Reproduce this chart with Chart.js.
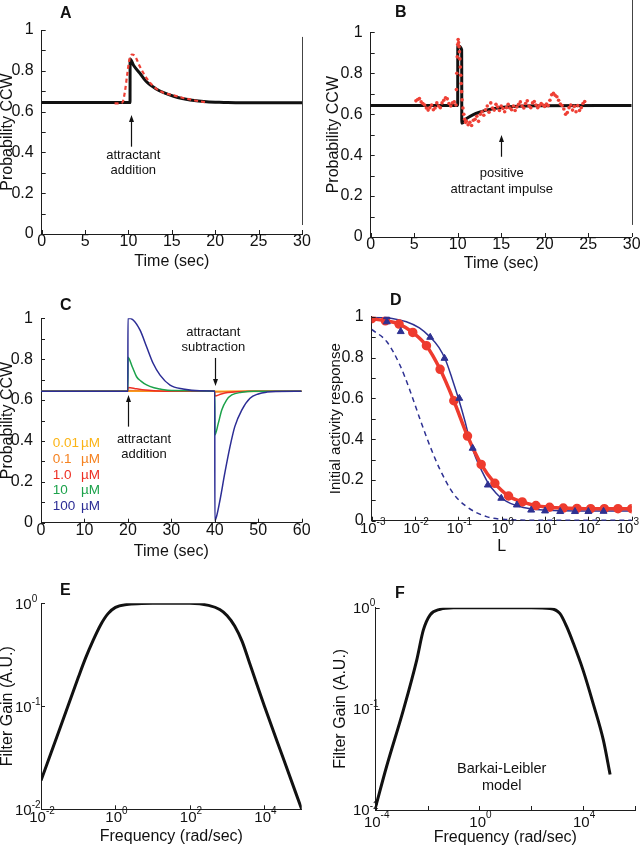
<!DOCTYPE html>
<html>
<head>
<meta charset="utf-8">
<script src="https://cdn.jsdelivr.net/npm/chart.js@4"></script>
<style>
  body { margin: 0; background: #fff; width: 640px; height: 852px; position: relative; overflow: hidden; }
  canvas { position: absolute; }
</style>
</head>
<body>
<canvas id="pA"></canvas>
<canvas id="pB"></canvas>
<canvas id="pC"></canvas>
<canvas id="pD"></canvas>
<canvas id="pE"></canvas>
<canvas id="pF"></canvas>
<script>
// ---- panel A : single attractant addition ----
const aTimeModel = [0, 10.18, 10.19, 10.6, 11.3, 12, 13.2, 14.2, 15.2, 16.2, 17.1, 19, 21, 23, 30];
const aModel = [0.644, 0.644, 0.858, 0.826, 0.789, 0.750, 0.711, 0.690, 0.675, 0.664, 0.657, 0.648, 0.645, 0.643, 0.643];
const aTimeExp = [8.4, 9.3, 9.6, 9.85, 10.1, 10.4, 10.75, 11.3, 12.1, 13.2, 14.2, 15.2, 16.2, 17.1, 18.0, 18.9];
const aExp = [0.640, 0.645, 0.700, 0.780, 0.853, 0.880, 0.872, 0.822, 0.763, 0.712, 0.690, 0.680, 0.668, 0.660, 0.652, 0.646];

// ---- panel B : positive impulse ----
const bTimeModel = [0, 10.0, 10.01, 10.46, 10.47, 11.0, 11.8, 12.6, 13.3, 14.4, 15.6, 17.0, 19.0, 30];
const bModel = [0.643, 0.643, 0.934, 0.915, 0.556, 0.578, 0.598, 0.611, 0.620, 0.629, 0.635, 0.639, 0.641, 0.642];
const bTimeExp = [
  5.2, 5.4, 5.6, 5.8, 6.0, 6.2, 6.4, 6.6, 6.8, 7.0, 7.2, 7.4, 7.6, 7.8, 8.0, 8.2, 8.4, 8.6, 8.8, 9.0, 9.2, 9.4, 9.6, 9.8,
  9.85, 9.9, 9.95, 10.0, 10.05, 10.1, 10.15, 10.2, 10.25, 10.3, 10.35, 10.4, 10.45, 10.5, 10.6, 10.7, 10.8, 10.9,
  11.0, 11.2, 11.4, 11.6, 11.8, 12.0, 12.2, 12.4, 12.6, 12.8, 13.0, 13.2, 13.4, 13.6, 13.8, 14.0, 14.2, 14.4, 14.6, 14.8,
  15.0, 15.2, 15.4, 15.6, 15.8, 16.0, 16.2, 16.4, 16.6, 16.8, 17.0, 17.2, 17.4, 17.6, 17.8, 18.0, 18.2, 18.4, 18.6, 18.8,
  19.0, 19.2, 19.4, 19.6, 19.8, 20.0, 20.2, 20.4, 20.6, 20.8, 21.0, 21.2, 21.4, 21.6, 21.8, 22.0, 22.2, 22.4, 22.6, 22.8,
  23.0, 23.2, 23.4, 23.6, 23.8, 24.0, 24.2, 24.4, 24.6
];
const bExp = [
  0.665, 0.672, 0.676, 0.660, 0.652, 0.645, 0.630, 0.620, 0.632, 0.645, 0.622, 0.630, 0.655, 0.640, 0.632, 0.655, 0.668, 0.680, 0.675, 0.652, 0.640, 0.655, 0.660, 0.645,
  0.72, 0.80, 0.88, 0.94, 0.965, 0.95, 0.93, 0.905, 0.87, 0.83, 0.79, 0.75, 0.71, 0.67, 0.63, 0.60, 0.575, 0.56,
  0.565, 0.548, 0.560, 0.545, 0.570, 0.575, 0.590, 0.565, 0.600, 0.612, 0.595, 0.622, 0.640, 0.610, 0.655, 0.630, 0.620, 0.648, 0.635, 0.618,
  0.640, 0.628, 0.612, 0.632, 0.648, 0.630, 0.622, 0.640, 0.618, 0.635, 0.648, 0.660, 0.640, 0.630, 0.652, 0.665, 0.640, 0.632, 0.655, 0.662,
  0.645, 0.632, 0.642, 0.652, 0.645, 0.638, 0.650, 0.642, 0.668, 0.695, 0.702, 0.692, 0.685, 0.668, 0.650, 0.642, 0.625, 0.600, 0.608, 0.632,
  0.645, 0.620, 0.638, 0.612, 0.642, 0.618, 0.632, 0.652, 0.662
];

// ---- panel C : addition then subtraction, five concentrations ----
const cTimeBlue = [0, 20, 20.01, 21.2, 22.8, 24.3, 25.8, 27.4, 29.7, 32.7, 36.5, 40, 40.01, 40.4, 41.2, 42.3, 43.5, 44.6, 46.2, 48.1, 50, 52, 54, 60];
const cBlue = [0.643, 0.643, 1.0, 0.992, 0.942, 0.861, 0.780, 0.722, 0.673, 0.654, 0.645, 0.643, 0.010, 0.030, 0.111, 0.242, 0.372, 0.470, 0.551, 0.609, 0.630, 0.639, 0.642, 0.643];
const cTimeGreen = [0, 20, 20.01, 21, 22, 23, 24.3, 26, 27.4, 30, 40, 40.01, 40.8, 41.6, 42.7, 43.9, 46.2, 49, 60];
const cGreen = [0.643, 0.643, 0.809, 0.763, 0.714, 0.693, 0.674, 0.660, 0.654, 0.647, 0.643, 0.429, 0.486, 0.551, 0.600, 0.625, 0.638, 0.643, 0.643];
const cTimeRed = [0, 20, 20.01, 22, 24, 26, 30, 40, 40.01, 41.5, 43, 45, 48, 60];
const cRed = [0.643, 0.643, 0.662, 0.655, 0.649, 0.646, 0.643, 0.643, 0.620, 0.630, 0.637, 0.641, 0.643, 0.643];
const cTimeOrange = [0, 20, 20.01, 24, 30, 40, 40.01, 44, 60];
const cOrange = [0.643, 0.643, 0.647, 0.644, 0.643, 0.643, 0.639, 0.642, 0.643];
const cTimeYellow = [0, 60];
const cYellow = [0.643, 0.643];
const cConc = ['0.01', '0.1', '1.0', '10', '100'];

// ---- panel D : dose response ----
const dLRed = [0.001, 0.00207, 0.00428, 0.00886, 0.01833, 0.0379, 0.0785, 0.1624, 0.336, 0.695, 1.438, 2.976, 6.158, 12.74, 26.37, 54.6, 112.9, 233.6, 483.3, 1000];
const dRed = [0.990, 0.980, 0.964, 0.923, 0.858, 0.742, 0.588, 0.415, 0.276, 0.183, 0.121, 0.092, 0.074, 0.066, 0.062, 0.060, 0.059, 0.059, 0.059, 0.059];
const dLTri = [0.00224, 0.00224, 0.00468, 0.0224, 0.0479, 0.105, 0.214, 0.479, 0.977, 2.24, 4.79, 10, 22.4, 49, 100, 224];
const dTri = [1.0, 0.975, 0.927, 0.899, 0.796, 0.600, 0.355, 0.175, 0.110, 0.077, 0.052, 0.048, 0.045, 0.045, 0.045, 0.046];
const dLFit = [0.001, 0.00316, 0.00631, 0.0126, 0.0224, 0.0355, 0.0501, 0.0708, 0.1, 0.141, 0.186, 0.251, 0.355, 0.501, 0.708, 1, 1.585, 3.16, 6.31, 15.8, 100, 1000];
const dFit = [0.998, 0.990, 0.975, 0.945, 0.900, 0.850, 0.790, 0.700, 0.600, 0.490, 0.390, 0.310, 0.240, 0.180, 0.140, 0.110, 0.085, 0.065, 0.055, 0.050, 0.048, 0.048];
const dLDash = [0.001, 0.00224, 0.00447, 0.00759, 0.0132, 0.0224, 0.038, 0.0759, 0.155, 0.447, 1.26, 10, 100, 1000];
const dDash = [0.938, 0.877, 0.763, 0.640, 0.494, 0.363, 0.249, 0.134, 0.069, 0.020, 0.006, 0.002, 0.002, 0.002];

// ---- panels E, F : filter gain ----
const eFreq = [0.01, 0.0316, 0.1, 0.158, 0.251, 0.398, 0.631, 1, 2, 5, 10, 100, 316, 631, 1000, 1585, 2512, 3981, 6310, 10000, 31623, 100000];
const eGain = [0.019, 0.060, 0.19, 0.295, 0.437, 0.617, 0.794, 0.912, 0.973, 0.993, 1.0, 1.0, 0.955, 0.871, 0.759, 0.603, 0.427, 0.263, 0.162, 0.1, 0.0316, 0.01];
const fFreq = [1e-4, 2.63e-4, 1.17e-3, 3.8e-3, 6.9e-3, 0.0126, 0.0302, 0.1, 1, 100, 525, 1259, 2344, 4169, 10000, 24547, 60256, 109648];
const fGain = [0.0108, 0.0269, 0.0977, 0.302, 0.603, 0.851, 0.964, 1.0, 1.0, 1.0, 0.984, 0.879, 0.646, 0.447, 0.24, 0.112, 0.049, 0.0224];

// tick exponents for the log axes
const dXExp = [-3, -2, -1, 0, 1, 2, 3];
const eXExp = [-2, 0, 2, 4];
const fXTickExp = [-4, -2, 0, 2, 4, 6];
const fXExp = [-4, 0, 4];
const gainYExp = [-2, -1, 0];

const FONT = '"Liberation Sans", Arial, Helvetica, sans-serif';
const AXIS = '#1e1e1e';
const TICK = 4;

const pts = (xs, ys) => xs.map((x, i) => ({ x: x, y: ys[i] }));

function labelY(v) {
  const k = Math.round(v * 10);
  if (k % 2) return '';
  return k === 0 ? '0' : (k === 10 ? '1' : (k / 10).toFixed(1));
}

// draws inward ticks, 10^n labels, annotation text and arrows
const deco = {
  id: 'deco',
  afterDraw(chart, args, o) {
    const { ctx, chartArea: a, scales: { x, y } } = chart;
    ctx.save();
    ctx.strokeStyle = AXIS;
    ctx.lineWidth = 1;
    ctx.beginPath();
    x.ticks.forEach(t => {
      const p = Math.round(x.getPixelForValue(t.value)) + 0.5;
      ctx.moveTo(p, a.bottom); ctx.lineTo(p, a.bottom - TICK);
    });
    y.ticks.forEach(t => {
      const p = Math.round(y.getPixelForValue(t.value)) + 0.5;
      ctx.moveTo(a.left, p); ctx.lineTo(a.left + TICK, p);
    });
    ctx.stroke();

    ctx.fillStyle = '#111';
    ctx.textAlign = 'left';
    ctx.textBaseline = 'alphabetic';
    if (o.logX) {
      o.logX.exps.forEach(e => {
        const px = x.getPixelForValue(Math.pow(10, e));
        ctx.font = '15px ' + FONT;
        const w1 = ctx.measureText('10').width;
        ctx.font = '10px ' + FONT;
        const w2 = ctx.measureText(String(e)).width;
        let sx = px - (w1 + w2) / 2 + 1;
        if (sx + w1 + w2 > chart.width - 1) sx = chart.width - 1 - w1 - w2;
        ctx.font = '15px ' + FONT;
        ctx.fillText('10', sx, a.bottom + o.logX.dy1);
        ctx.font = '10px ' + FONT;
        ctx.fillText(String(e), sx + w1, a.bottom + o.logX.dy2);
      });
    }
    if (o.logY) {
      o.logY.exps.forEach(e => {
        const py = y.getPixelForValue(Math.pow(10, e));
        ctx.font = '15px ' + FONT;
        const w1 = ctx.measureText('10').width;
        const sx = a.left - o.logY.gap - w1;
        ctx.fillText('10', sx, py + 5.3);
        ctx.font = '10px ' + FONT;
        ctx.fillText(String(e), sx + w1, py - 1.5);
      });
    }

    (o.texts || []).forEach(t => {
      ctx.font = (t.size || 13) + 'px ' + FONT;
      ctx.fillStyle = t.color || '#111';
      ctx.textAlign = t.align || 'center';
      ctx.textBaseline = 'middle';
      ctx.fillText(t.s, x.getPixelForValue(t.x), y.getPixelForValue(t.y));
    });

    ctx.fillStyle = '#111';
    ctx.strokeStyle = '#111';
    ctx.lineWidth = 1.2;
    (o.arrows || []).forEach(r => {
      const px = Math.round(x.getPixelForValue(r.x)) + 0.5;
      const p0 = y.getPixelForValue(r.y0), p1 = y.getPixelForValue(r.y1);
      const dir = p1 < p0 ? 1 : -1;
      ctx.beginPath();
      ctx.moveTo(px, p0); ctx.lineTo(px, p1 + dir * 5);
      ctx.stroke();
      ctx.beginPath();
      ctx.moveTo(px, p1); ctx.lineTo(px - 2.5, p1 + dir * 7); ctx.lineTo(px + 2.5, p1 + dir * 7);
      ctx.closePath(); ctx.fill();
    });

    if (o.vline) {
      const px = Math.round(x.getPixelForValue(o.vline[0])) + 0.5;
      ctx.strokeStyle = '#444';
      ctx.lineWidth = 1;
      ctx.beginPath();
      ctx.moveTo(px, y.getPixelForValue(o.vline[1]));
      ctx.lineTo(px, y.getPixelForValue(o.vline[2]));
      ctx.stroke();
    }

    if (o.letter) {
      ctx.font = 'bold 16px ' + FONT;
      ctx.fillStyle = '#111';
      ctx.textAlign = 'left';
      ctx.textBaseline = 'alphabetic';
      ctx.fillText(o.letter[0], o.letter[1], o.letter[2]);
    }
    ctx.restore();
  }
};

// frame = canvas box on the page, area = plot box on the page
function panel(id, frame, area, datasets, xs, ys, o) {
  const cv = document.getElementById(id);
  cv.style.left = frame[0] + 'px';
  cv.style.top = frame[1] + 'px';
  cv.width = frame[2] - frame[0];
  cv.height = frame[3] - frame[1];
  const padL = area[0] - frame[0], padT = area[1] - frame[1];
  const padR = frame[2] - area[2], padB = frame[3] - area[3];
  const common = {
    grid: { display: false, drawTicks: false },
    border: { display: true, color: AXIS, width: 1 }
  };
  new Chart(cv, {
    type: 'scatter',
    data: { datasets: datasets },
    options: {
      responsive: false,
      animation: false,
      events: [],
      layout: { padding: { left: 0, top: padT, right: padR, bottom: 0 } },
      plugins: { legend: { display: false }, tooltip: { enabled: false }, deco: o },
      scales: {
        x: Object.assign({}, common, xs, {
          position: 'bottom',
          afterFit: s => { s.height = padB; s.paddingLeft = 0; s.paddingRight = 0; }
        }),
        y: Object.assign({}, common, ys, {
          position: 'left',
          afterFit: s => { s.width = padL; s.paddingTop = 0; s.paddingBottom = 0; }
        })
      }
    },
    plugins: [deco]
  });
}

const tickFont = { family: FONT, size: 16, lineHeight: 1 };
const linY = {
  type: 'linear', min: 0, max: 1,
  ticks: { stepSize: 0.1, autoSkip: false, callback: labelY, font: tickFont, color: '#111', padding: 8 }
};
const linX = (max, step) => ({
  type: 'linear', min: 0, max: max,
  ticks: { stepSize: step, autoSkip: false, font: tickFont, color: '#111', padding: 0 }
});
const titleOf = (text, pad, size) => ({
  display: true, text: text, color: '#111',
  font: { family: FONT, size: size || 16, lineHeight: 1 }, padding: pad
});
const logAxis = (min, max, exps) => ({
  type: 'logarithmic', min: min, max: max,
  ticks: { display: false },
  afterBuildTicks: s => { s.ticks = exps.map(e => ({ value: Math.pow(10, e) })); }
});
const line = (data, color, width, extra) => Object.assign({
  data: data, showLine: true, borderColor: color, backgroundColor: color,
  borderWidth: width, pointRadius: 0, cubicInterpolationMode: 'monotone'
}, extra || {});

// ---- A ----
panel('pA', [0, 0, 320, 280], [41.7, 30, 302, 234], [
  line(pts(aTimeExp, aExp), '#ee4036', 2.2, { borderDash: [4, 3] }),
  line(pts(aTimeModel, aModel), '#111', 3)
],
  Object.assign(linX(30, 5), { title: titleOf('Time (sec)', { bottom: 10.3 }) }),
  Object.assign({}, linY, { title: titleOf('Probability CCW', { top: 0 }) }),
  {
    letter: ['A', 60, 18],
    vline: [30, 0.966, 0.044],
    texts: [{ x: 10.56, y: 0.387, s: 'attractant' }, { x: 10.56, y: 0.314, s: 'addition' }],
    arrows: [{ x: 10.33, y0: 0.428, y1: 0.583 }]
  });

// ---- B ----
panel('pB', [320, 0, 640, 280], [370.7, 32.3, 631.7, 237], [
  { data: pts(bTimeExp, bExp), showLine: false, pointRadius: 1.8, pointBackgroundColor: '#ef4136', pointBorderWidth: 0, backgroundColor: '#ef4136' },
  line(pts(bTimeModel, bModel), '#111', 3)
],
  Object.assign(linX(30, 5), { title: titleOf('Time (sec)', { bottom: 8.7 }) }),
  Object.assign({}, linY, { title: titleOf('Probability CCW', { top: 6 }) }),
  {
    letter: ['B', 75, 17],
    vline: [30, 1.16, 0.059],
    texts: [{ x: 15.06, y: 0.311, s: 'positive' }, { x: 15.06, y: 0.233, s: 'attractant impulse' }],
    arrows: [{ x: 15, y0: 0.392, y1: 0.498 }]
  });

// ---- C ----
const cColors = ['#fbb416', '#f58220', '#ed2f24', '#1ca24b', '#2c2d95'];
const cLegendY = [0.388, 0.310, 0.233, 0.157, 0.078];
panel('pC', [0, 280, 320, 560], [41, 318.3, 301.7, 522.7], [
  line(pts(cTimeBlue, cBlue), cColors[4], 1.5),
  line(pts(cTimeGreen, cGreen), cColors[3], 1.5),
  line(pts(cTimeRed, cRed), cColors[2], 1.5),
  line(pts(cTimeOrange, cOrange), cColors[1], 1.5),
  line(pts(cTimeYellow, cYellow), cColors[0], 1.5)
],
  Object.assign(linX(60, 10), { title: titleOf('Time (sec)', { bottom: 0.3 }) }),
  Object.assign({}, linY, { title: titleOf('Probability CCW', { top: 0 }) }),
  {
    letter: ['C', 60, 30],
    texts: [
      { x: 23.7, y: 0.408, s: 'attractant' }, { x: 23.7, y: 0.336, s: 'addition' },
      { x: 39.66, y: 0.931, s: 'attractant' }, { x: 39.66, y: 0.856, s: 'subtraction' }
    ].concat(cConc.map((c, i) => ({ x: 2.69, y: cLegendY[i], s: c, color: cColors[i], align: 'left', size: 13.5 })))
     .concat(cConc.map((c, i) => ({ x: 9.2, y: cLegendY[i], s: '\u00b5M', color: cColors[i], align: 'left', size: 13.5 }))),
    arrows: [{ x: 20, y0: 0.47, y1: 0.625 }, { x: 40, y0: 0.806, y1: 0.669 }]
  });

// ---- D ----
panel('pD', [320, 280, 640, 560], [371.7, 316.7, 631.7, 520.7], [
  { data: pts(dLTri, dTri), showLine: false, pointStyle: 'triangle', pointRadius: 4, pointBackgroundColor: '#2e3192', pointBorderColor: '#2e3192', pointBorderWidth: 1 },
  line(pts(dLRed, dRed), '#ee3b2e', 3.5, { pointRadius: 3, pointBackgroundColor: '#ee3b2e', pointBorderColor: '#ee3b2e' }),
  line(pts(dLFit, dFit), '#2e3192', 1.5),
  line(pts(dLDash, dDash), '#2e3192', 1.5, { borderDash: [5, 4] })
],
  Object.assign(logAxis(0.001, 1000, dXExp), { title: titleOf('L', { bottom: 5.3 }) }),
  Object.assign({}, linY, { title: titleOf('Initial activity response', { top: 8 }, 15) }),
  {
    letter: ['D', 70, 25],
    logX: { exps: dXExp, dy1: 12.7, dy2: 4.4 }
  });

// ---- E ----
panel('pE', [0, 560, 320, 852], [41, 603.3, 301.7, 809.3], [
  line(pts(eFreq, eGain), '#111', 3)
],
  Object.assign(logAxis(0.01, 100000, eXExp), { title: titleOf('Frequency (rad/sec)', { bottom: 7.3 }) }),
  Object.assign(logAxis(0.01, 1, gainYExp), { title: titleOf('Filter Gain (A.U.)', { top: 0 }) }),
  {
    letter: ['E', 60, 35],
    logX: { exps: eXExp, dy1: 12.8, dy2: 5 },
    logY: { exps: gainYExp, gap: 9.3 }
  });

// ---- F ----
panel('pF', [320, 560, 640, 852], [375.7, 607.7, 635, 810], [
  line(pts(fFreq, fGain), '#111', 3)
],
  Object.assign(logAxis(1e-4, 1e6, fXTickExp), { title: titleOf('Frequency (rad/sec)', { bottom: 6 }) }),
  Object.assign(logAxis(0.01, 1, gainYExp), { title: titleOf('Filter Gain (A.U.)', { top: 12.7 }) }),
  {
    letter: ['F', 75, 38],
    logX: { exps: fXExp, dy1: 16.6, dy2: 7.7 },
    logY: { exps: gainYExp, gap: 6 },
    texts: [{ x: 7.24, y: 0.0252, s: 'Barkai-Leibler', size: 14.5 }, { x: 7.24, y: 0.01726, s: 'model', size: 14.5 }]
  });
</script>
</body>
</html>
